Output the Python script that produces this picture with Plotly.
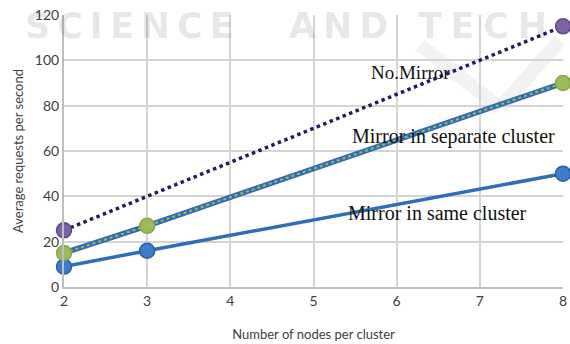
import plotly.graph_objects as go

nodes_nomirror = [2, 8]
req_nomirror = [25, 115]
nodes_sep = [2, 3, 8]
req_sep = [15, 27, 90]
nodes_same = [2, 3, 8]
req_same = [9, 16, 50]
x_ticks = [2, 3, 4, 5, 6, 7, 8]
y_ticks = [0, 20, 40, 60, 80, 100, 120]

fig = go.Figure()

# faint watermark words
wm = dict(family="DejaVu Sans", size=35, color="rgba(0,0,0,0.1)")
for word, sep, px in [("SCIENCE", "\u2009", -0.082), ("AND", "\u2009", 0.447), ("TECH", "\u2005", 0.705)]:
    fig.add_annotation(xref="paper", yref="paper", x=px, y=0.958, xanchor="left", yanchor="middle",
                       text="<b>" + sep.join(word) + "</b>", showarrow=False, font=wm)
# faint V of the watermark logo
for (x0, y0, x1, y1) in [(0.713, 0.89, 0.874, 0.658), (0.994, 0.908, 0.874, 0.658)]:
    fig.add_shape(type="line", xref="paper", yref="paper", x0=x0, y0=y0, x1=x1, y1=y1,
                  line=dict(color="rgba(0,0,0,0.05)", width=14), layer="below")

# Mirror in same cluster
fig.add_trace(go.Scatter(x=nodes_same, y=req_same, mode="lines+markers",
                         line=dict(color="#2f6db5", width=3.5),
                         marker=dict(size=15, color="#3d7dcc", line=dict(color="#2a5e9e", width=1.5)),
                         cliponaxis=False, showlegend=False))
# Mirror in separate cluster: blue edge + green dotted centre
fig.add_trace(go.Scatter(x=nodes_sep, y=req_sep, mode="lines",
                         line=dict(color="#2f6db5", width=5.5),
                         cliponaxis=False, showlegend=False, hoverinfo="skip"))
fig.add_trace(go.Scatter(x=nodes_sep, y=req_sep, mode="lines+markers",
                         line=dict(color="#9bbb59", width=2, dash="dot"),
                         marker=dict(size=15, color="#9bbb59", line=dict(color="#86a84a", width=1.5)),
                         cliponaxis=False, showlegend=False))
# No mirror
fig.add_trace(go.Scatter(x=nodes_nomirror, y=req_nomirror, mode="lines+markers",
                         line=dict(color="#231c5e", width=3.5, dash="dot"),
                         marker=dict(size=15, color="#7e62a8", line=dict(color="#5f4a86", width=1.5)),
                         cliponaxis=False, showlegend=False))

serif = dict(family="Liberation Serif", size=20, color="#111111")
fig.add_annotation(x=6.17, y=94.8, text="No.Mirror", showarrow=False,
                   font=dict(family="Liberation Serif", size=19, color="#111111"))
fig.add_annotation(x=6.68, y=66.6, text="Mirror in separate cluster", showarrow=False, font=serif)
fig.add_annotation(x=6.49, y=32.6, text="Mirror in same cluster", showarrow=False, font=serif)

fig.update_layout(
    width=570, height=344,
    margin=dict(l=64, r=7, t=15, b=57),
    paper_bgcolor="white", plot_bgcolor="white",
    font=dict(family="Lato", color="#404040"),
)
fig.update_xaxes(range=[2, 8], tickvals=x_ticks, ticks="", showgrid=True,
                 gridcolor="#d4d4d4", gridwidth=2, zeroline=False,
                 showline=True, linecolor="#bfbfbf", linewidth=2,
                 ticklabeloverflow="allow", automargin=False,
                 tickfont=dict(size=14, color="#404040"),
                 title=dict(text="Number of nodes per cluster", font=dict(size=13, color="#404040"), standoff=22))
fig.update_yaxes(range=[0, 120], tickvals=y_ticks, ticks="", showgrid=True,
                 gridcolor="#d4d4d4", gridwidth=2, zeroline=False,
                 showline=True, linecolor="#bfbfbf", linewidth=2,
                 ticklabeloverflow="allow", automargin=False,
                 tickfont=dict(size=14, color="#404040"),
                 title=dict(text="Average requests per second", font=dict(size=13, color="#404040"), standoff=8))

fig.write_html("out.html", config={"displayModeBar": False},
               post_script="document.body.style.margin='0';document.body.style.overflow='hidden';")
